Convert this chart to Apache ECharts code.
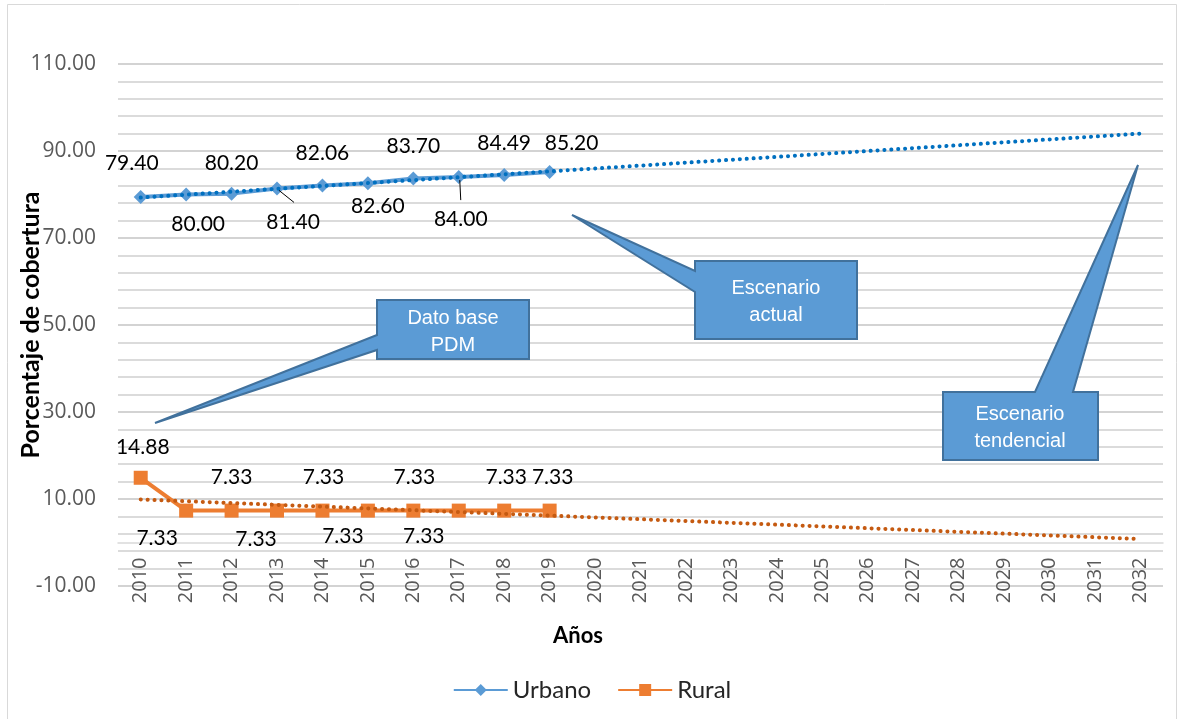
<!DOCTYPE html>
<html>
<head>
<meta charset="utf-8">
<script src="https://cdn.jsdelivr.net/npm/echarts@6/dist/echarts.min.js"></script>
<style>
html,body{margin:0;padding:0;background:#fff;}
#main{width:1184px;height:719px;}
</style>
</head>
<body>
<div id="main"></div>
<script>
// ---- data ----
const years = ['2010','2011','2012','2013','2014','2015','2016','2017','2018','2019','2020','2021','2022','2023','2024','2025','2026','2027','2028','2029','2030','2031','2032'];
const urbano = [79.40, 80.00, 80.20, 81.40, 82.06, 82.60, 83.70, 84.00, 84.49, 85.20];
const rural = [14.88, 7.33, 7.33, 7.33, 7.33, 7.33, 7.33, 7.33, 7.33, 7.33];
// linear trend lines read at their two ends (2010 and 2032)
const urbanoTrendEnds = [79.3, 94.0];
const ruralTrendEnds = [9.9, 0.8];
const yTickLabels = ['-10.00','10.00','30.00','50.00','70.00','90.00','110.00'];

// ---- label placement (styles) ----
const urbanoLabelOffsets = [[-9,-34],[12,30],[0,-30],[16,34],[0,-32],[10,23],[0,-32],[2,42],[0,-32],[22,-29]];
const ruralLabelOffsets = [[2,-31],[-29,28],[0,-33],[-21,29],[1,-33],[-25,26],[1,-33],[-35,26],[2,-33],[3,-33]];

const chart = echarts.init(document.getElementById('main'), null, {renderer:'canvas'});

const lblFont = 'Lato';
const axisFont = '"Open Sans"';

function trendData(ends){
  return years.map((y,i)=> i===0 ? ends[0] : (i===years.length-1 ? ends[1] : null));
}

const option = {
  animation:false,
  backgroundColor:'#fff',
  grid:{left:118,right:21,top:64,bottom:133,containLabel:false,outerBoundsMode:'none'},
  legend:{
    data:['Urbano','Rural'],
    bottom:12,
    left:'center',
    itemWidth:54,
    itemHeight:15,
    itemGap:26,
    textStyle:{fontFamily:lblFont,fontSize:24,color:'#262626'}
  },
  xAxis:{
    type:'category',
    data:years,
    boundaryGap:true,
    axisLine:{onZero:false,lineStyle:{color:'#d9d9d9',width:1.5}},
    axisTick:{show:false},
    axisLabel:{rotate:90,color:'#595959',fontFamily:axisFont,fontSize:20,margin:15}
  },
  yAxis:{
    type:'value',
    min:-10,max:110,interval:20,
    axisLine:{show:false},
    axisTick:{show:false},
    axisLabel:{color:'#595959',fontFamily:axisFont,fontSize:21,margin:22,
      formatter:(v)=>{const s=v.toFixed(2);return yTickLabels.indexOf(s)>=0?s:'';}},
    splitLine:{lineStyle:{color:'#c4c4c4',width:1.5}},
    minorTick:{show:false,splitNumber:5},
    minorSplitLine:{show:true,lineStyle:{color:'#d0d0d0',width:1.5}}
  },
  series:[
    {
      name:'Urbano',type:'line',
      data:urbano.map((v,i)=>({value:v,label:{offset:urbanoLabelOffsets[i]}})),
      symbol:'diamond',symbolSize:14,
      lineStyle:{color:'#5B9BD5',width:4},
      itemStyle:{color:'#5B9BD5'},
      label:{show:true,position:'inside',color:'#000',fontFamily:lblFont,fontSize:21,
        formatter:(p)=>p.value.toFixed(2)},
      z:3
    },
    {
      name:'Rural',type:'line',
      data:rural.map((v,i)=>({value:v,label:{offset:ruralLabelOffsets[i]}})),
      symbol:'rect',symbolSize:14,
      lineStyle:{color:'#ED7D31',width:4},
      itemStyle:{color:'#ED7D31'},
      label:{show:true,position:'inside',color:'#000',fontFamily:lblFont,fontSize:21,
        formatter:(p)=>p.value.toFixed(2)},
      z:3
    },
    {
      name:'Urbano tendencia',type:'line',
      data:trendData(urbanoTrendEnds),connectNulls:true,
      symbol:'none',silent:true,
      lineStyle:{color:'#0070C0',width:4,type:[0.1,6.8],cap:'round'},
      z:5
    },
    {
      name:'Rural tendencia',type:'line',
      data:trendData(ruralTrendEnds),connectNulls:true,
      symbol:'none',silent:true,
      lineStyle:{color:'#C55A11',width:4,type:[0.1,6.8],cap:'round'},
      z:5
    }
  ]
};
chart.setOption(option);

// move the horizontal axis (line + labels) up to cross at value 0
const yZero = chart.convertToPixel({yAxisIndex:0}, 0);
const yMin = chart.convertToPixel({yAxisIndex:0}, -10);
const yMax = chart.convertToPixel({yAxisIndex:0}, 110);
chart.setOption({xAxis:{offset: yZero - yMin}});

// leader lines for two displaced labels, anchored to the data points
function pt(seriesIdx, i, v){ return chart.convertToPixel({seriesIndex:seriesIdx}, [i, v]); }
const p3 = pt(0,3,urbano[3]);
const p7 = pt(0,7,urbano[7]);

const calloutStyle = {fill:'#5B9BD5',stroke:'#41719C',lineWidth:2};
const cFont = '20px "Liberation Sans", Arial, sans-serif';
function ctext(x,y,t){
  return {type:'text',x:x,y:y,style:{text:t,fill:'#fff',font:cFont,align:'center',verticalAlign:'middle'},z:20};
}

chart.setOption({
  graphic:[
    {type:'rect',shape:{x:7.5,y:4.5,width:1169,height:730},style:{fill:'none',stroke:'#d9d9d9',lineWidth:1},silent:true,z:0},
    {type:'line',shape:{x1:p3[0]+2,y1:p3[1]+2,x2:p3[0]+17,y2:p3[1]+14},style:{stroke:'#000',lineWidth:1},z:10},
    {type:'line',shape:{x1:p7[0]+1,y1:p7[1]+3,x2:p7[0]+2,y2:p7[1]+23},style:{stroke:'#000',lineWidth:1},z:10},
    {type:'text',x:31,y:(yMin+yMax)/2,rotation:Math.PI/2,
      style:{text:'Porcentaje de cobertura',fill:'#000',font:'bold 25px Lato',align:'center',verticalAlign:'middle'},z:10},
    {type:'text',x:578,y:636,style:{text:'Años',fill:'#000',font:'bold 22px Lato',align:'center',verticalAlign:'middle'},z:10},
    // callout: Dato base PDM
    {type:'polygon',shape:{points:[[377,300],[529,300],[529,359],[377,359],[377,350],[155,423],[377,335]]},style:calloutStyle,z:15},
    ctext(453,318,'Dato base'), ctext(453,345,'PDM'),
    // callout: Escenario actual
    {type:'polygon',shape:{points:[[695,261],[857,261],[857,339],[695,339],[695,292],[572,215],[695,271]]},style:calloutStyle,z:15},
    ctext(776,288,'Escenario'), ctext(776,315,'actual'),
    // callout: Escenario tendencial
    {type:'polygon',shape:{points:[[943,392],[1035,392],[1138,165],[1073,392],[1098,392],[1098,460],[943,460]]},style:calloutStyle,z:15},
    ctext(1020,414,'Escenario'), ctext(1020,441,'tendencial')
  ]
});
</script>
</body>
</html>
